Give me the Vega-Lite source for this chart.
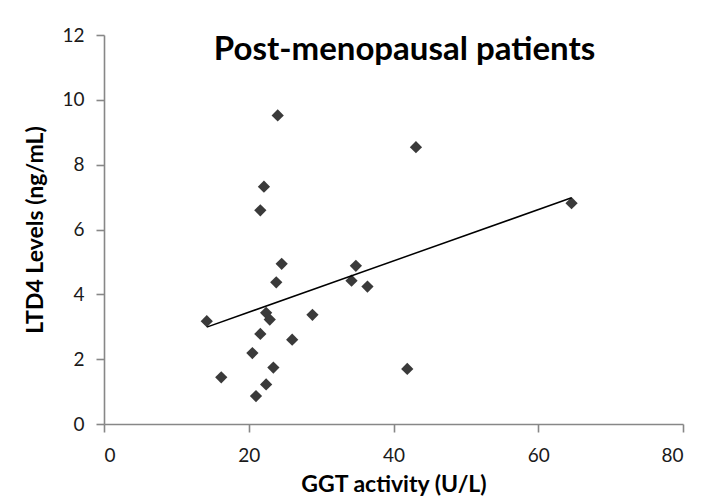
{
  "$schema": "https://vega.github.io/schema/vega-lite/v6.json",
  "width": 579,
  "height": 389,
  "autosize": "none",
  "padding": {"left": 104, "top": 35, "right": 27, "bottom": 77},
  "background": "white",
  "config": {"view": {"stroke": null}, "font": "Lato"},
  "title": {
    "text": "Post-menopausal patients",
    "font": "Lato",
    "fontSize": 33,
    "fontWeight": "bold",
    "color": "#000000",
    "anchor": "middle",
    "baseline": "top",
    "offset": -41,
    "dx": 11
  },
  "data": {
    "values": [
      {"ggt": 14.2, "ltd4": 3.17},
      {"ggt": 16.2, "ltd4": 1.44},
      {"ggt": 24.0, "ltd4": 9.52},
      {"ggt": 22.1, "ltd4": 7.32},
      {"ggt": 21.6, "ltd4": 6.59},
      {"ggt": 24.55, "ltd4": 4.94},
      {"ggt": 23.8, "ltd4": 4.37},
      {"ggt": 22.4, "ltd4": 3.43},
      {"ggt": 22.9, "ltd4": 3.22},
      {"ggt": 28.8, "ltd4": 3.37},
      {"ggt": 21.6, "ltd4": 2.78},
      {"ggt": 26.0, "ltd4": 2.6},
      {"ggt": 20.5, "ltd4": 2.19},
      {"ggt": 23.4, "ltd4": 1.74},
      {"ggt": 22.4, "ltd4": 1.22},
      {"ggt": 21.0, "ltd4": 0.86},
      {"ggt": 34.2, "ltd4": 4.42},
      {"ggt": 34.8, "ltd4": 4.88},
      {"ggt": 36.4, "ltd4": 4.24},
      {"ggt": 43.1, "ltd4": 8.54},
      {"ggt": 41.9, "ltd4": 1.7},
      {"ggt": 64.6, "ltd4": 6.81}
    ]
  },
  "encoding": {
    "x": {
      "field": "ggt",
      "type": "quantitative",
      "title": "GGT activity (U/L)",
      "scale": {"domain": [0, 80], "nice": false, "zero": false},
      "axis": {
        "values": [0, 20, 40, 60, 80],
        "grid": false,
        "domainColor": "#878787",
        "domainWidth": 1.6,
        "tickColor": "#878787",
        "tickWidth": 1.6,
        "tickSize": 8,
        "labelFont": "Lato",
        "labelFontSize": 19,
        "labelColor": "#1a1a1a",
        "labelPadding": 14,
        "titleFont": "Lato",
        "titleFontSize": 23,
        "titleFontWeight": "bold",
        "titleColor": "#000000",
        "titlePadding": 8
      }
    },
    "y": {
      "field": "ltd4",
      "type": "quantitative",
      "title": "LTD4 Levels (ng/mL)",
      "scale": {"domain": [0, 12], "nice": false},
      "axis": {
        "values": [0, 2, 4, 6, 8, 10, 12],
        "grid": false,
        "domainColor": "#878787",
        "domainWidth": 1.6,
        "tickColor": "#878787",
        "tickWidth": 1.6,
        "tickSize": 8,
        "labelFont": "Lato",
        "labelFontSize": 19,
        "labelColor": "#1a1a1a",
        "labelPadding": 12,
        "titleFont": "Lato",
        "titleFontSize": 23,
        "titleFontWeight": "bold",
        "titleColor": "#000000",
        "titlePadding": 14
      }
    }
  },
  "layer": [
    {
      "mark": {"type": "point", "shape": "diamond", "filled": true, "size": 150, "color": "#3a3a3a", "opacity": 1}
    },
    {
      "transform": [{"regression": "ltd4", "on": "ggt"}],
      "mark": {"type": "line", "color": "#000000", "strokeWidth": 1.5}
    }
  ]
}
